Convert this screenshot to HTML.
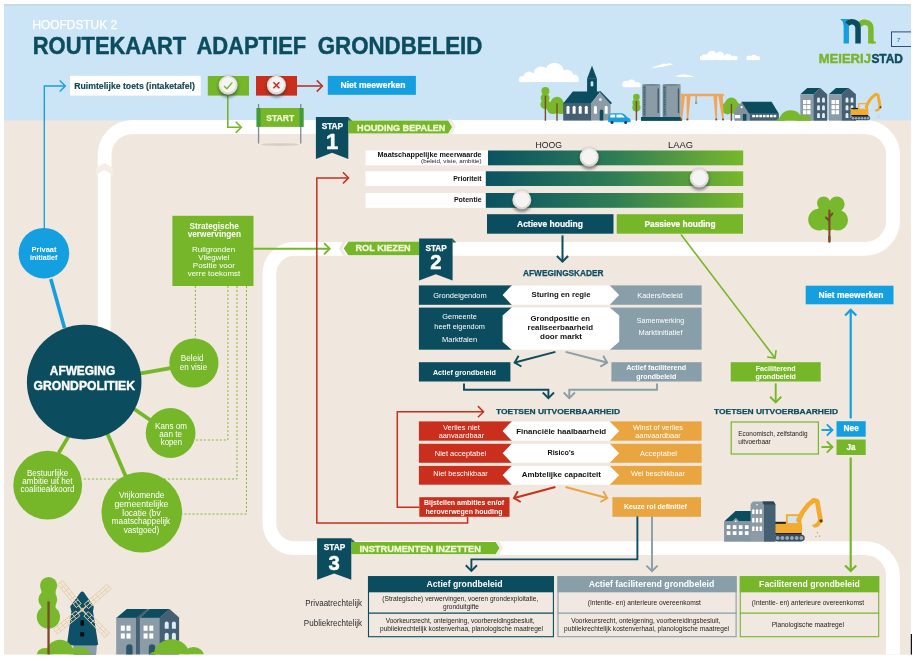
<!DOCTYPE html>
<html lang="nl"><head><meta charset="utf-8"><title>Routekaart adaptief grondbeleid</title>
<style>
html,body{margin:0;padding:0;background:#fff;width:916px;height:661px;overflow:hidden}
svg{display:block;font-family:"Liberation Sans", sans-serif;will-change:transform}
</style></head><body>
<svg width="916" height="661" viewBox="0 0 916 661">
<rect x="4.00" y="4.30" width="907.00" height="650.30" fill="#f0e7de" />
<rect x="4.00" y="4.30" width="907.00" height="116.00" fill="#cbe4f6" />
<rect x="4.00" y="4.30" width="907.00" height="1.20" fill="#c3d3df" />
<clipPath id="frame"><rect x="4" y="4.3" width="907" height="650.3000000000001"/></clipPath>
<g clip-path="url(#frame)">
<path d="M104.6 174 L104.6 155 A28 28 0 0 1 132.6 127 L865 127 A28 28 0 0 1 893 155 L893 220.8 A28 28 0 0 1 865 248.8 L294.4 248.8 A25 25 0 0 0 269.4 273.8 L269.4 523.1 A25 25 0 0 0 294.4 548.1 L865 548.1 A28 28 0 0 1 893 576.1 L893 660" fill="none" stroke="#fff" stroke-width="13.8"/>
</g>
<text x="32.50" y="29.30" font-size="12" fill="#fff" font-weight="normal" text-anchor="start" textLength="84.50" lengthAdjust="spacingAndGlyphs" stroke="#fff" stroke-width="0.25">HOOFDSTUK 2</text>
<text y="53.5" font-size="23" font-weight="bold" fill="#0b4d5f" stroke="#0b4d5f" stroke-width="0.45" stroke-linejoin="round"><tspan x="32.8" textLength="153.4" lengthAdjust="spacingAndGlyphs">ROUTEKAART</tspan> <tspan x="196.4" textLength="109.8" lengthAdjust="spacingAndGlyphs">ADAPTIEF</tspan> <tspan x="317.8" textLength="164.6" lengthAdjust="spacingAndGlyphs">GRONDBELEID</tspan></text>
<path d="M97.8 340 L97.8 175.5 L110.6 175.5 L110.6 340 Z" fill="#fff"/>
<path d="M96 175 L96 167.8 L104.6 163 L113.2 167.8 L113.2 175 Z" fill="#f5eee7"/>
<path d="M97.6 176 L97.6 174 L104.3 170 L111 174 L111 176 Z" fill="#fff"/>
<defs>
<linearGradient id="gbar" x1="0" x2="1" y1="0" y2="0"><stop offset="0" stop-color="#0a5262"/><stop offset="0.5" stop-color="#2f7d56"/><stop offset="1" stop-color="#78b82a"/></linearGradient>
<radialGradient id="knob" cx="0.5" cy="0.4" r="0.6"><stop offset="0" stop-color="#f4f3f1"/><stop offset="0.7" stop-color="#e9e7e4"/><stop offset="1" stop-color="#d0cecb"/></radialGradient>
<filter id="sh" x="-50%" y="-50%" width="200%" height="220%"><feGaussianBlur stdDeviation="1.6"/></filter>
</defs>
<path d="M44.30 230.00 L44.30 86.00 L65.05 86.00" fill="none" stroke="#149fe0" stroke-width="1.35" />
<path d="M59.75 91.60 L65.35 86.00 L59.75 80.40" fill="none" stroke="#149fe0" stroke-width="1.35" stroke-linejoin="miter"/>
<rect x="70.00" y="75.80" width="130.70" height="19.80" fill="#fff" />
<text x="74.30" y="88.60" font-size="8.2" fill="#124555" font-weight="bold" text-anchor="start" stroke="#124555" stroke-width="0.15" stroke-linejoin="round" textLength="120.50" lengthAdjust="spacingAndGlyphs" >Ruimtelijke toets (intaketafel)</text>
<rect x="207.80" y="76.00" width="41.20" height="19.60" fill="#76b72a" />
<rect x="256.00" y="76.00" width="41.00" height="19.60" fill="#c92f1c" />
<path d="M297.00 86.00 L322.07 86.00" fill="none" stroke="#b5382b" stroke-width="1.6" />
<path d="M316.77 91.60 L322.37 86.00 L316.77 80.40" fill="none" stroke="#b5382b" stroke-width="1.6" stroke-linejoin="miter"/>
<rect x="327.80" y="75.90" width="88.10" height="18.90" fill="#149fe0" />
<text x="373.00" y="87.60" font-size="8.6" fill="#fff" font-weight="bold" text-anchor="middle" stroke="#fff" stroke-width="0.2" stroke-linejoin="round" textLength="65.00" lengthAdjust="spacingAndGlyphs" >Niet meewerken</text>
<path d="M227.80 95.00 L227.80 127.30 L240.97 127.30" fill="none" stroke="#76b72a" stroke-width="1.6" />
<path d="M235.67 132.90 L241.27 127.30 L235.67 121.70" fill="none" stroke="#76b72a" stroke-width="1.6" stroke-linejoin="miter"/>
<circle cx="228.1" cy="86.5" r="10.4" fill="#1d2b2b" opacity="0.32" filter="url(#sh)"/>
<ellipse cx="228.1" cy="90.3" rx="8.55" ry="7.125" fill="#2a3a3a" opacity="0.35" filter="url(#sh)"/>
<circle cx="228.1" cy="85.3" r="9.5" fill="url(#knob)"/>
<circle cx="228.1" cy="85.1" r="6.6499999999999995" fill="#f5f4f2" stroke="#fbfbfa" stroke-width="0.7"/>
<path d="M224 85.9 L226.9 88.8 L232.4 82.4" fill="none" stroke="#76b72a" stroke-width="1.4"/>
<circle cx="276.4" cy="86.5" r="10.4" fill="#1d2b2b" opacity="0.32" filter="url(#sh)"/>
<ellipse cx="276.4" cy="90.3" rx="8.55" ry="7.125" fill="#2a3a3a" opacity="0.35" filter="url(#sh)"/>
<circle cx="276.4" cy="85.3" r="9.5" fill="url(#knob)"/>
<circle cx="276.4" cy="85.1" r="6.6499999999999995" fill="#f5f4f2" stroke="#fbfbfa" stroke-width="0.7"/>
<path d="M273.4 82.3 L279.4 88.3 M279.4 82.3 L273.4 88.3" fill="none" stroke="#c92f1c" stroke-width="1.6"/>
<ellipse cx="280" cy="144.6" rx="19" ry="1.4" fill="#b9b2aa" opacity="0.45"/>
<rect x="257.90" y="104.00" width="1.30" height="39.50" fill="#7d8a9c" />
<rect x="300.10" y="104.00" width="1.30" height="39.50" fill="#7d8a9c" />
<rect x="256.60" y="108.00" width="46.90" height="18.90" fill="#76b72a" />
<rect x="256.60" y="108.00" width="4.00" height="18.90" fill="#3f9b3c" />
<rect x="299.50" y="108.00" width="4.00" height="18.90" fill="#3f9b3c" />
<text x="280.20" y="120.90" font-size="9.6" fill="#f5fadc" font-weight="bold" text-anchor="middle" stroke="#f5fadc" stroke-width="0.25" stroke-linejoin="round" textLength="27.80" lengthAdjust="spacingAndGlyphs" >START</text>
<path d="M448.2 119.1 L451.4 119.1 L455.4 127.0 L451.4 134.9 L448.2 134.9 L452 127.0 Z" fill="#f3ebe3"/>
<path d="M348.3 120.6 L448.2 120.6 L452 127.0 L448.2 133.4 L348.3 133.4 Z" fill="#76b72a"/>
<text x="357.10" y="130.60" font-size="9.9" fill="#f5fadc" font-weight="bold" text-anchor="start" stroke="#f5fadc" stroke-width="0.3" stroke-linejoin="round" textLength="88.30" lengthAdjust="spacingAndGlyphs" >HOUDING BEPALEN</text>
<path d="M348.1 117 L352.1 120.8 L348.1 120.8 Z" fill="#2a6b45"/>
<path d="M315.9 117 L348.3 117 L348.3 158.9 L332.1 152.70000000000002 L315.9 158.9 Z" fill="#0b4d5f"/>
<text x="332.40" y="128.90" font-size="8.7" fill="#fff" font-weight="bold" text-anchor="middle" stroke="#fff" stroke-width="0.25" stroke-linejoin="round" textLength="21.50" lengthAdjust="spacingAndGlyphs" >STAP</text>
<text x="332.10" y="148.50" font-size="22" fill="#fff" font-weight="bold" text-anchor="middle" stroke="#fff" stroke-width="0.5" stroke-linejoin="round" >1</text>
<rect x="365.50" y="150.50" width="123.00" height="14.80" fill="#fff" />
<rect x="488.00" y="150.50" width="255.20" height="14.80" fill="url(#gbar)" />
<rect x="365.50" y="171.30" width="120.80" height="14.70" fill="#fff" />
<rect x="485.80" y="171.30" width="257.40" height="14.70" fill="url(#gbar)" />
<rect x="365.50" y="193.00" width="120.80" height="14.80" fill="#fff" />
<rect x="485.80" y="193.00" width="257.40" height="14.80" fill="url(#gbar)" />
<text x="481.60" y="157.20" font-size="6.9" fill="#111" font-weight="bold" text-anchor="end" textLength="104.00" lengthAdjust="spacingAndGlyphs" >Maatschappelijke meerwaarde</text>
<text x="481.60" y="163.30" font-size="5.9" fill="#222" font-weight="normal" text-anchor="end" textLength="60.50" lengthAdjust="spacingAndGlyphs" >(beleid, visie, ambitie)</text>
<text x="481.60" y="181.20" font-size="6.9" fill="#111" font-weight="bold" text-anchor="end" textLength="28.40" lengthAdjust="spacingAndGlyphs" >Prioriteit</text>
<text x="481.60" y="201.50" font-size="6.9" fill="#111" font-weight="bold" text-anchor="end" textLength="27.70" lengthAdjust="spacingAndGlyphs" >Potentie</text>
<text x="548.70" y="148.30" font-size="8.2" fill="#222" font-weight="normal" text-anchor="middle" textLength="26.50" lengthAdjust="spacingAndGlyphs" >HOOG</text>
<text x="680.50" y="148.30" font-size="8.2" fill="#222" font-weight="normal" text-anchor="middle" textLength="25.00" lengthAdjust="spacingAndGlyphs" >LAAG</text>
<circle cx="589.2" cy="158.5" r="10.4" fill="#1d2b2b" opacity="0.32" filter="url(#sh)"/>
<ellipse cx="589.2" cy="162.3" rx="8.55" ry="7.125" fill="#2a3a3a" opacity="0.35" filter="url(#sh)"/>
<circle cx="589.2" cy="157.3" r="9.5" fill="url(#knob)"/>
<circle cx="589.2" cy="157.10000000000002" r="6.6499999999999995" fill="#f5f4f2" stroke="#fbfbfa" stroke-width="0.7"/>
<circle cx="699.3" cy="179.39999999999998" r="10.4" fill="#1d2b2b" opacity="0.32" filter="url(#sh)"/>
<ellipse cx="699.3" cy="183.2" rx="8.55" ry="7.125" fill="#2a3a3a" opacity="0.35" filter="url(#sh)"/>
<circle cx="699.3" cy="178.2" r="9.5" fill="url(#knob)"/>
<circle cx="699.3" cy="178.0" r="6.6499999999999995" fill="#f5f4f2" stroke="#fbfbfa" stroke-width="0.7"/>
<circle cx="521.8" cy="201.1" r="10.4" fill="#1d2b2b" opacity="0.32" filter="url(#sh)"/>
<ellipse cx="521.8" cy="204.9" rx="8.55" ry="7.125" fill="#2a3a3a" opacity="0.35" filter="url(#sh)"/>
<circle cx="521.8" cy="199.9" r="9.5" fill="url(#knob)"/>
<circle cx="521.8" cy="199.70000000000002" r="6.6499999999999995" fill="#f5f4f2" stroke="#fbfbfa" stroke-width="0.7"/>
<rect x="487.00" y="214.20" width="126.50" height="19.50" fill="#0b4d5f" />
<rect x="616.70" y="214.20" width="126.30" height="19.50" fill="#76b72a" />
<text x="550.00" y="227.00" font-size="8.8" fill="#fff" font-weight="bold" text-anchor="middle" stroke="#fff" stroke-width="0.2" stroke-linejoin="round" textLength="66.00" lengthAdjust="spacingAndGlyphs" >Actieve houding</text>
<text x="680.00" y="227.00" font-size="8.8" fill="#fff" font-weight="bold" text-anchor="middle" stroke="#fff" stroke-width="0.2" stroke-linejoin="round" textLength="71.00" lengthAdjust="spacingAndGlyphs" >Passieve houding</text>
<path d="M562.50 235.40 L562.50 261.29" fill="none" stroke="#0b4d5f" stroke-width="2.0" />
<path d="M556.90 255.99 L562.50 261.59 L568.10 255.99" fill="none" stroke="#0b4d5f" stroke-width="2.0" stroke-linejoin="miter"/>
<text x="563.30" y="276.10" font-size="8.4" fill="#0b4d5f" font-weight="bold" text-anchor="middle" stroke="#0b4d5f" stroke-width="0.25" stroke-linejoin="round" textLength="80.50" lengthAdjust="spacingAndGlyphs" >AFWEGINGSKADER</text>
<path d="M253.50 248.70 L329.36 248.70" fill="none" stroke="#76b72a" stroke-width="1.9" />
<path d="M324.06 254.30 L329.66 248.70 L324.06 243.10" fill="none" stroke="#76b72a" stroke-width="1.9" stroke-linejoin="miter"/>
<path d="M339.2 248.4 L343.4 241 L346.4 241 L342.2 248.4 L346.4 256 L343.4 256 Z" fill="#f0e7de"/>
<path d="M343.7 248.5 L348.3 241.8 L419.5 241.8 L419.5 255.2 L348.3 255.2 Z" fill="#76b72a"/>
<text x="355.50" y="251.30" font-size="9.4" fill="#f5fadc" font-weight="bold" text-anchor="start" stroke="#f5fadc" stroke-width="0.3" stroke-linejoin="round" textLength="55.10" lengthAdjust="spacingAndGlyphs" >ROL KIEZEN</text>
<path d="M452.40000000000003 238.6 L456.40000000000003 242.4 L452.40000000000003 242.4 Z" fill="#2a6b45"/>
<path d="M419.1 238.6 L452.6 238.6 L452.6 280.5 L435.85 274.3 L419.1 280.5 Z" fill="#0b4d5f"/>
<text x="436.15" y="250.50" font-size="8.7" fill="#fff" font-weight="bold" text-anchor="middle" stroke="#fff" stroke-width="0.25" stroke-linejoin="round" textLength="21.50" lengthAdjust="spacingAndGlyphs" >STAP</text>
<text x="435.85" y="268.70" font-size="20.2" fill="#fff" font-weight="bold" text-anchor="middle" stroke="#fff" stroke-width="0.5" stroke-linejoin="round" >2</text>
<rect x="418.90" y="285.40" width="93.10" height="19.40" fill="#0b4d5f" />
<rect x="610.00" y="285.40" width="91.60" height="19.40" fill="#889ea9" />
<path d="M511.6 285.4 L609.8 285.4 L619.2 295.1 L609.8 304.8 L511.6 304.8 L502.6 295.1 Z" fill="#fff"/>
<rect x="418.90" y="307.60" width="93.10" height="42.10" fill="#0b4d5f" />
<rect x="610.00" y="307.60" width="91.60" height="42.10" fill="#889ea9" />
<path d="M511.6 307.6 L609.8 307.6 L619.2 315.6 L619.2 341.7 L609.8 349.7 L511.6 349.7 L502.6 341.7 L502.6 315.6 Z" fill="#fff"/>
<text x="460.00" y="297.60" font-size="7.5" fill="#fff" font-weight="normal" text-anchor="middle" textLength="53.40" lengthAdjust="spacingAndGlyphs" >Grondeigendom</text>
<text x="459.60" y="319.20" font-size="7.5" fill="#fff" font-weight="normal" text-anchor="middle" textLength="34.50" lengthAdjust="spacingAndGlyphs" >Gemeente</text>
<text x="459.60" y="328.70" font-size="7.5" fill="#fff" font-weight="normal" text-anchor="middle" textLength="50.50" lengthAdjust="spacingAndGlyphs" >heeft eigendom</text>
<text x="459.60" y="342.10" font-size="7.5" fill="#fff" font-weight="normal" text-anchor="middle" textLength="35.00" lengthAdjust="spacingAndGlyphs" >Marktfalen</text>
<text x="660.00" y="298.00" font-size="7.5" fill="#fff" font-weight="normal" text-anchor="middle" textLength="45.50" lengthAdjust="spacingAndGlyphs" >Kaders/beleid</text>
<text x="660.50" y="322.50" font-size="7.5" fill="#fff" font-weight="normal" text-anchor="middle" textLength="47.50" lengthAdjust="spacingAndGlyphs" >Samenwerking</text>
<text x="660.50" y="335.20" font-size="7.5" fill="#fff" font-weight="normal" text-anchor="middle" textLength="44.00" lengthAdjust="spacingAndGlyphs" >Marktinitiatief</text>
<text x="561.00" y="297.40" font-size="8.0" fill="#111" font-weight="bold" text-anchor="middle" textLength="59.00" lengthAdjust="spacingAndGlyphs" >Sturing en regie</text>
<text x="560.30" y="320.70" font-size="8.0" fill="#111" font-weight="bold" text-anchor="middle" textLength="59.40" lengthAdjust="spacingAndGlyphs" >Grondpositie en</text>
<text x="560.30" y="329.80" font-size="8.0" fill="#111" font-weight="bold" text-anchor="middle" textLength="65.40" lengthAdjust="spacingAndGlyphs" >realiseerbaarheid</text>
<text x="561.00" y="338.90" font-size="8.0" fill="#111" font-weight="bold" text-anchor="middle" textLength="42.00" lengthAdjust="spacingAndGlyphs" >door markt</text>
<path d="M555.40 351.80 L514.89 362.48" fill="none" stroke="#0b4d5f" stroke-width="1.9" />
<path d="M518.59 355.71 L514.60 362.56 L521.44 366.54" fill="none" stroke="#0b4d5f" stroke-width="1.9" stroke-linejoin="miter"/>
<path d="M565.70 351.80 L606.91 362.49" fill="none" stroke="#889ea9" stroke-width="1.9" />
<path d="M600.37 366.58 L607.20 362.56 L603.18 355.74" fill="none" stroke="#889ea9" stroke-width="1.9" stroke-linejoin="miter"/>
<rect x="418.90" y="362.20" width="91.50" height="19.30" fill="#0b4d5f" />
<rect x="611.40" y="362.20" width="90.20" height="19.30" fill="#889ea9" />
<text x="464.40" y="374.50" font-size="7.2" fill="#fff" font-weight="bold" text-anchor="middle" textLength="63.00" lengthAdjust="spacingAndGlyphs" >Actief grondbeleid</text>
<text x="656.20" y="370.20" font-size="7.2" fill="#fff" font-weight="bold" text-anchor="middle" textLength="60.00" lengthAdjust="spacingAndGlyphs" >Actief faciliterend</text>
<text x="656.20" y="378.50" font-size="7.2" fill="#fff" font-weight="bold" text-anchor="middle" textLength="40.00" lengthAdjust="spacingAndGlyphs" >grondbeleid</text>
<path d="M464.00 383.40 L464.00 389.80 L548.40 389.80 L548.40 397.76" fill="none" stroke="#0b4d5f" stroke-width="1.9" />
<path d="M542.80 392.46 L548.40 398.06 L554.00 392.46" fill="none" stroke="#0b4d5f" stroke-width="1.9" stroke-linejoin="miter"/>
<path d="M657.00 383.40 L657.00 389.80 L569.30 389.80 L569.30 397.76" fill="none" stroke="#889ea9" stroke-width="1.9" />
<path d="M563.70 392.46 L569.30 398.06 L574.90 392.46" fill="none" stroke="#889ea9" stroke-width="1.9" stroke-linejoin="miter"/>
<text x="558.00" y="414.40" font-size="8.1" fill="#0b4d5f" font-weight="bold" text-anchor="middle" stroke="#0b4d5f" stroke-width="0.25" stroke-linejoin="round" textLength="124.00" lengthAdjust="spacingAndGlyphs" >TOETSEN UITVOERBAARHEID</text>
<rect x="418.90" y="421.40" width="93.10" height="19.30" fill="#c92f1c" />
<rect x="610.00" y="421.40" width="91.60" height="19.30" fill="#e9a53f" />
<path d="M511.6 421.4 L609.8 421.4 L619.2 431.04999999999995 L609.8 440.7 L511.6 440.7 L502.6 431.04999999999995 Z" fill="#fff"/>
<rect x="418.90" y="443.80" width="93.10" height="19.00" fill="#c92f1c" />
<rect x="610.00" y="443.80" width="91.60" height="19.00" fill="#e9a53f" />
<path d="M511.6 443.8 L609.8 443.8 L619.2 453.3 L609.8 462.8 L511.6 462.8 L502.6 453.3 Z" fill="#fff"/>
<rect x="418.90" y="465.90" width="93.10" height="18.80" fill="#c92f1c" />
<rect x="610.00" y="465.90" width="91.60" height="18.80" fill="#e9a53f" />
<path d="M511.6 465.9 L609.8 465.9 L619.2 475.29999999999995 L609.8 484.7 L511.6 484.7 L502.6 475.29999999999995 Z" fill="#fff"/>
<text x="461.40" y="429.50" font-size="7.5" fill="#fff" font-weight="normal" text-anchor="middle" textLength="37.00" lengthAdjust="spacingAndGlyphs" >Verlies niet</text>
<text x="461.40" y="437.90" font-size="7.5" fill="#fff" font-weight="normal" text-anchor="middle" textLength="45.50" lengthAdjust="spacingAndGlyphs" >aanvaardbaar</text>
<text x="460.50" y="455.70" font-size="7.5" fill="#fff" font-weight="normal" text-anchor="middle" textLength="51.50" lengthAdjust="spacingAndGlyphs" >Niet acceptabel</text>
<text x="460.50" y="476.10" font-size="7.5" fill="#fff" font-weight="normal" text-anchor="middle" textLength="54.50" lengthAdjust="spacingAndGlyphs" >Niet beschikbaar</text>
<text x="658.00" y="429.50" font-size="7.5" fill="#fff" font-weight="normal" text-anchor="middle" textLength="50.00" lengthAdjust="spacingAndGlyphs" >Winst of verlies</text>
<text x="658.00" y="437.90" font-size="7.5" fill="#fff" font-weight="normal" text-anchor="middle" textLength="45.50" lengthAdjust="spacingAndGlyphs" >aanvaardbaar</text>
<text x="658.50" y="455.70" font-size="7.5" fill="#fff" font-weight="normal" text-anchor="middle" textLength="37.00" lengthAdjust="spacingAndGlyphs" >Acceptabel</text>
<text x="658.00" y="476.10" font-size="7.5" fill="#fff" font-weight="normal" text-anchor="middle" textLength="54.00" lengthAdjust="spacingAndGlyphs" >Wel beschikbaar</text>
<text x="561.20" y="433.60" font-size="8.0" fill="#111" font-weight="bold" text-anchor="middle" textLength="90.00" lengthAdjust="spacingAndGlyphs" >Financiële haalbaarheid</text>
<text x="561.00" y="455.10" font-size="8.0" fill="#111" font-weight="bold" text-anchor="middle" textLength="27.00" lengthAdjust="spacingAndGlyphs" >Risico’s</text>
<text x="561.30" y="476.80" font-size="8.0" fill="#111" font-weight="bold" text-anchor="middle" textLength="79.30" lengthAdjust="spacingAndGlyphs" >Ambtelijke capaciteit</text>
<path d="M555.40 487.00 L514.19 497.98" fill="none" stroke="#c92f1c" stroke-width="1.9" />
<path d="M517.87 491.20 L513.90 498.05 L520.75 502.02" fill="none" stroke="#c92f1c" stroke-width="1.9" stroke-linejoin="miter"/>
<path d="M565.50 487.00 L606.91 497.98" fill="none" stroke="#e9a53f" stroke-width="1.9" />
<path d="M600.35 502.03 L607.20 498.06 L603.22 491.21" fill="none" stroke="#e9a53f" stroke-width="1.9" stroke-linejoin="miter"/>
<rect x="419.30" y="497.20" width="90.20" height="19.60" fill="#c92f1c" />
<rect x="612.40" y="497.20" width="88.60" height="19.60" fill="#e9a53f" />
<text x="464.00" y="505.10" font-size="6.9" fill="#fff" font-weight="bold" text-anchor="middle" textLength="80.00" lengthAdjust="spacingAndGlyphs" >Bijstellen ambities en/of</text>
<text x="464.00" y="513.60" font-size="6.9" fill="#fff" font-weight="bold" text-anchor="middle" textLength="77.00" lengthAdjust="spacingAndGlyphs" >heroverwegen houding</text>
<text x="655.40" y="508.60" font-size="6.9" fill="#fff" font-weight="bold" text-anchor="middle" textLength="63.00" lengthAdjust="spacingAndGlyphs" >Keuze rol definitief</text>
<path d="M419.30 507.30 L397.30 507.30 L397.30 411.70 L483.24 411.70" fill="none" stroke="#c92f1c" stroke-width="1.5" />
<path d="M477.94 417.30 L483.54 411.70 L477.94 406.10" fill="none" stroke="#c92f1c" stroke-width="1.5" stroke-linejoin="miter"/>
<path d="M467.60 516.40 L467.60 523.00 L316.80 523.00 L316.80 177.90 L348.24 177.90" fill="none" stroke="#c92f1c" stroke-width="1.5" />
<path d="M342.94 183.50 L348.54 177.90 L342.94 172.30" fill="none" stroke="#c92f1c" stroke-width="1.5" stroke-linejoin="miter"/>
<path d="M637.40 516.40 L637.40 559.40 L471.40 559.40 L471.40 570.56" fill="none" stroke="#0b4d5f" stroke-width="1.9" />
<path d="M465.80 565.26 L471.40 570.86 L477.00 565.26" fill="none" stroke="#0b4d5f" stroke-width="1.9" stroke-linejoin="miter"/>
<path d="M652.00 516.40 L652.00 570.96" fill="none" stroke="#889ea9" stroke-width="1.9" />
<path d="M646.40 565.66 L652.00 571.26 L657.60 565.66" fill="none" stroke="#889ea9" stroke-width="1.9" stroke-linejoin="miter"/>
<path d="M681.00 234.50 L774.83 357.76" fill="none" stroke="#76b72a" stroke-width="1.6" />
<path d="M767.17 356.94 L775.01 358.00 L776.08 350.15" fill="none" stroke="#76b72a" stroke-width="1.6" stroke-linejoin="miter"/>
<rect x="730.70" y="362.20" width="90.00" height="19.30" fill="#76b72a" />
<text x="775.70" y="370.60" font-size="7.2" fill="#fff" font-weight="bold" text-anchor="middle" textLength="40.00" lengthAdjust="spacingAndGlyphs" >Faciliterend</text>
<text x="775.70" y="378.60" font-size="7.2" fill="#fff" font-weight="bold" text-anchor="middle" textLength="40.50" lengthAdjust="spacingAndGlyphs" >grondbeleid</text>
<path d="M775.70 383.40 L775.70 402.06" fill="none" stroke="#76b72a" stroke-width="1.9" />
<path d="M770.10 396.76 L775.70 402.36 L781.30 396.76" fill="none" stroke="#76b72a" stroke-width="1.9" stroke-linejoin="miter"/>
<text x="776.00" y="414.40" font-size="8.1" fill="#0b4d5f" font-weight="bold" text-anchor="middle" stroke="#0b4d5f" stroke-width="0.25" stroke-linejoin="round" textLength="124.00" lengthAdjust="spacingAndGlyphs" >TOETSEN UITVOERBAARHEID</text>
<rect x="731.2" y="422" width="87.2" height="32" fill="#f0e7de" stroke="#76b72a" stroke-width="1.2"/>
<text x="738.30" y="436.30" font-size="6.6" fill="#222" font-weight="normal" text-anchor="start" textLength="69.20" lengthAdjust="spacingAndGlyphs" >Economisch, zelfstandig</text>
<text x="738.30" y="444.40" font-size="6.6" fill="#222" font-weight="normal" text-anchor="start" textLength="32.50" lengthAdjust="spacingAndGlyphs" >uitvoerbaar</text>
<path d="M821.50 430.00 L832.16 430.00" fill="none" stroke="#149fe0" stroke-width="1.9" />
<path d="M826.86 435.60 L832.46 430.00 L826.86 424.40" fill="none" stroke="#149fe0" stroke-width="1.9" stroke-linejoin="miter"/>
<path d="M821.50 447.00 L832.16 447.00" fill="none" stroke="#76b72a" stroke-width="1.9" />
<path d="M826.86 452.60 L832.46 447.00 L826.86 441.40" fill="none" stroke="#76b72a" stroke-width="1.9" stroke-linejoin="miter"/>
<rect x="836.50" y="421.20" width="29.20" height="15.50" fill="#149fe0" />
<rect x="836.50" y="439.50" width="29.20" height="15.50" fill="#76b72a" />
<text x="851.20" y="431.20" font-size="8.5" fill="#fff" font-weight="bold" text-anchor="middle" stroke="#fff" stroke-width="0.25" stroke-linejoin="round" textLength="15.30" lengthAdjust="spacingAndGlyphs" >Nee</text>
<text x="851.00" y="449.80" font-size="8.5" fill="#fff" font-weight="bold" text-anchor="middle" stroke="#fff" stroke-width="0.25" stroke-linejoin="round" textLength="9.00" lengthAdjust="spacingAndGlyphs" >Ja</text>
<path d="M850.70 418.40 L850.70 310.16" fill="none" stroke="#149fe0" stroke-width="2.2" />
<path d="M856.30 315.46 L850.70 309.86 L845.10 315.46" fill="none" stroke="#149fe0" stroke-width="2.2" stroke-linejoin="miter"/>
<rect x="805.70" y="285.70" width="87.80" height="18.60" fill="#149fe0" />
<text x="851.00" y="298.00" font-size="8.6" fill="#fff" font-weight="bold" text-anchor="middle" stroke="#fff" stroke-width="0.2" stroke-linejoin="round" textLength="64.80" lengthAdjust="spacingAndGlyphs" >Niet meewerken</text>
<path d="M850.70 457.50 L850.70 570.74" fill="none" stroke="#76b72a" stroke-width="2.2" />
<path d="M845.10 565.44 L850.70 571.04 L856.30 565.44" fill="none" stroke="#76b72a" stroke-width="2.2" stroke-linejoin="miter"/>
<path d="M495.7 540.4 L498.9 540.4 L502.9 548.05 L498.9 555.7 L495.7 555.7 L499.5 548.05 Z" fill="#f3ebe3"/>
<path d="M351.3 541.9 L495.7 541.9 L499.5 548.05 L495.7 554.2 L351.3 554.2 Z" fill="#76b72a"/>
<text x="359.40" y="551.60" font-size="9.0" fill="#f5fadc" font-weight="bold" text-anchor="start" stroke="#f5fadc" stroke-width="0.3" stroke-linejoin="round" textLength="121.60" lengthAdjust="spacingAndGlyphs" >INSTRUMENTEN INZETTEN</text>
<path d="M351.1 538.2 L355.1 542.0 L351.1 542.0 Z" fill="#2a6b45"/>
<path d="M317.1 538.2 L351.3 538.2 L351.3 579.7 L334.20000000000005 573.5 L317.1 579.7 Z" fill="#0b4d5f"/>
<text x="334.50" y="550.10" font-size="8.7" fill="#fff" font-weight="bold" text-anchor="middle" stroke="#fff" stroke-width="0.25" stroke-linejoin="round" textLength="21.50" lengthAdjust="spacingAndGlyphs" >STAP</text>
<text x="334.20" y="570.30" font-size="20.2" fill="#fff" font-weight="bold" text-anchor="middle" stroke="#fff" stroke-width="0.5" stroke-linejoin="round" >3</text>
<rect x="368.5" y="576.7" width="184.89999999999998" height="60" fill="#f1e9e1" stroke="#0b4d5f" stroke-width="1.1"/>
<rect x="368.00" y="576.20" width="185.90" height="16.10" fill="#0b4d5f" />
<path d="M368.00 613.20 L553.90 613.20" fill="none" stroke="#0b4d5f" stroke-width="1.3" />
<text x="464.50" y="587.10" font-size="8.6" fill="#fff" font-weight="bold" text-anchor="middle" textLength="76.00" lengthAdjust="spacingAndGlyphs" >Actief grondbeleid</text>
<text x="460.30" y="601.30" font-size="6.6" fill="#222" font-weight="normal" text-anchor="middle" textLength="156.00" lengthAdjust="spacingAndGlyphs" >(Strategische) verwervingen, voeren grondexploitatie,</text>
<text x="461.00" y="608.70" font-size="6.6" fill="#222" font-weight="normal" text-anchor="middle" textLength="36.00" lengthAdjust="spacingAndGlyphs" >gronduitgifte</text>
<text x="460.20" y="623.00" font-size="6.6" fill="#222" font-weight="normal" text-anchor="middle" textLength="149.00" lengthAdjust="spacingAndGlyphs" >Voorkeursrecht, onteigening, voorbereidingsbesluit,</text>
<text x="461.50" y="630.50" font-size="6.6" fill="#222" font-weight="normal" text-anchor="middle" textLength="163.00" lengthAdjust="spacingAndGlyphs" >publiekrechtelijk kostenverhaa, planologische maatregel</text>
<rect x="558.0" y="576.7" width="178.10000000000002" height="60" fill="#f1e9e1" stroke="#889ea9" stroke-width="1.1"/>
<rect x="557.50" y="576.20" width="179.10" height="16.10" fill="#889ea9" />
<path d="M557.50 613.20 L736.60 613.20" fill="none" stroke="#889ea9" stroke-width="1.3" />
<text x="651.50" y="587.10" font-size="8.6" fill="#fff" font-weight="bold" text-anchor="middle" textLength="125.70" lengthAdjust="spacingAndGlyphs" >Actief faciliterend grondbeleid</text>
<text x="644.30" y="604.80" font-size="6.6" fill="#222" font-weight="normal" text-anchor="middle" textLength="113.20" lengthAdjust="spacingAndGlyphs" >(Intentie- en) anterieure overeenkomst</text>
<text x="645.80" y="623.00" font-size="6.6" fill="#222" font-weight="normal" text-anchor="middle" textLength="149.30" lengthAdjust="spacingAndGlyphs" >Voorkeursrecht, onteigening, voorbereidingsbesluit,</text>
<text x="646.60" y="630.80" font-size="6.6" fill="#222" font-weight="normal" text-anchor="middle" textLength="165.00" lengthAdjust="spacingAndGlyphs" >publiekrechtelijk kostenverhaal, planologische maatregel</text>
<rect x="740.3" y="576.7" width="138.4000000000001" height="60" fill="#f1e9e1" stroke="#76b72a" stroke-width="1.1"/>
<rect x="739.80" y="576.20" width="139.40" height="16.10" fill="#76b72a" />
<path d="M739.80 613.20 L879.20 613.20" fill="none" stroke="#76b72a" stroke-width="1.3" />
<text x="809.50" y="587.10" font-size="8.6" fill="#fff" font-weight="bold" text-anchor="middle" textLength="100.80" lengthAdjust="spacingAndGlyphs" >Faciliterend grondbeleid</text>
<text x="808.00" y="604.80" font-size="6.6" fill="#222" font-weight="normal" text-anchor="middle" textLength="112.30" lengthAdjust="spacingAndGlyphs" >(Intentie- en) anterieure overeenkomst</text>
<text x="807.80" y="627.00" font-size="6.6" fill="#222" font-weight="normal" text-anchor="middle" textLength="72.30" lengthAdjust="spacingAndGlyphs" >Planologische maatregel</text>
<text x="362.10" y="605.70" font-size="8.3" fill="#2b2b2b" font-weight="normal" text-anchor="end" textLength="56.80" lengthAdjust="spacingAndGlyphs" >Privaatrechtelijk</text>
<text x="362.10" y="625.90" font-size="8.3" fill="#2b2b2b" font-weight="normal" text-anchor="end" textLength="58.30" lengthAdjust="spacingAndGlyphs" >Publiekrechtelijk</text>
<path d="M50.8 279 L64.5 328" stroke="#149fe0" stroke-width="3.6" fill="none"/>
<g stroke="#76b72a" stroke-width="3.8" fill="none"><path d="M138 373.8 L172 367.9"/><path d="M132 407.5 L152 421.3"/><path d="M69 435.6 L58.5 453.3"/><path d="M106 430.5 L126 477"/></g>
<g stroke="#76b72a" stroke-width="0.95" fill="none" stroke-dasharray="2.1 1.9" opacity="0.95"><path d="M195.4 286 L195.4 339"/><path d="M227.9 286 L227.9 440 L195.4 440"/><path d="M237 286 L237 479 L82.5 479"/><path d="M246.5 286 L246.5 514 L182 514"/></g>
<rect x="172.40" y="215.80" width="81.10" height="70.20" fill="#76b72a" />
<text x="214.20" y="229.00" font-size="8.3" fill="#fff" font-weight="bold" text-anchor="middle" textLength="49.30" lengthAdjust="spacingAndGlyphs" >Strategische</text>
<text x="214.30" y="237.30" font-size="8.3" fill="#fff" font-weight="bold" text-anchor="middle" textLength="53.30" lengthAdjust="spacingAndGlyphs" >verwervingen</text>
<text x="213.60" y="251.50" font-size="8.05" fill="#fff" font-weight="normal" text-anchor="middle" textLength="43.00" lengthAdjust="spacingAndGlyphs" >Ruilgronden</text>
<text x="213.80" y="259.60" font-size="8.05" fill="#fff" font-weight="normal" text-anchor="middle" textLength="31.20" lengthAdjust="spacingAndGlyphs" >Vliegwiel</text>
<text x="213.90" y="268.00" font-size="8.05" fill="#fff" font-weight="normal" text-anchor="middle" textLength="42.30" lengthAdjust="spacingAndGlyphs" >Positie voor</text>
<text x="214.00" y="275.70" font-size="8.05" fill="#fff" font-weight="normal" text-anchor="middle" textLength="52.60" lengthAdjust="spacingAndGlyphs" >verre toekomst</text>
<circle cx="43.9" cy="253.2" r="25.3" fill="#149fe0"/>
<text x="44.00" y="251.90" font-size="7.7" fill="#fff" font-weight="bold" text-anchor="middle" textLength="25.00" lengthAdjust="spacingAndGlyphs" >Privaat</text>
<text x="43.70" y="259.70" font-size="7.7" fill="#fff" font-weight="bold" text-anchor="middle" textLength="27.30" lengthAdjust="spacingAndGlyphs" >initiatief</text>
<circle cx="84.2" cy="382.1" r="57.3" fill="#0b4d5f"/>
<text x="82.50" y="374.90" font-size="12.6" fill="#fff" font-weight="bold" text-anchor="middle" stroke="#fff" stroke-width="0.4" stroke-linejoin="round" textLength="65.40" lengthAdjust="spacingAndGlyphs" >AFWEGING</text>
<text x="84.30" y="389.70" font-size="12.6" fill="#fff" font-weight="bold" text-anchor="middle" stroke="#fff" stroke-width="0.4" stroke-linejoin="round" textLength="101.50" lengthAdjust="spacingAndGlyphs" >GRONDPOLITIEK</text>
<circle cx="193.9" cy="363" r="24.6" fill="#76b72a"/>
<text x="192.20" y="361.20" font-size="8.15" fill="#fff" font-weight="normal" text-anchor="middle" textLength="22.80" lengthAdjust="spacingAndGlyphs" >Beleid</text>
<text x="193.50" y="369.70" font-size="8.15" fill="#fff" font-weight="normal" text-anchor="middle" textLength="27.30" lengthAdjust="spacingAndGlyphs" >en visie</text>
<circle cx="170.6" cy="433" r="24.9" fill="#76b72a"/>
<text x="171.00" y="428.60" font-size="8.15" fill="#fff" font-weight="normal" text-anchor="middle" textLength="31.90" lengthAdjust="spacingAndGlyphs" >Kans om</text>
<text x="170.70" y="436.60" font-size="8.15" fill="#fff" font-weight="normal" text-anchor="middle" textLength="22.80" lengthAdjust="spacingAndGlyphs" >aan te</text>
<text x="171.40" y="444.60" font-size="8.15" fill="#fff" font-weight="normal" text-anchor="middle" textLength="21.30" lengthAdjust="spacingAndGlyphs" >kopen</text>
<circle cx="47.7" cy="485.2" r="34.4" fill="#76b72a"/>
<text x="47.60" y="475.90" font-size="8.15" fill="#fff" font-weight="normal" text-anchor="middle" textLength="41.30" lengthAdjust="spacingAndGlyphs" >Bestuurlijke</text>
<text x="47.40" y="484.10" font-size="8.15" fill="#fff" font-weight="normal" text-anchor="middle" textLength="50.40" lengthAdjust="spacingAndGlyphs" >ambitie uit het</text>
<text x="47.50" y="492.40" font-size="8.15" fill="#fff" font-weight="normal" text-anchor="middle" textLength="54.00" lengthAdjust="spacingAndGlyphs" >coalitieakkoord</text>
<circle cx="141.8" cy="512.2" r="40.3" fill="#76b72a"/>
<text x="141.70" y="498.40" font-size="8.15" fill="#fff" font-weight="normal" text-anchor="middle" textLength="45.50" lengthAdjust="spacingAndGlyphs" >Vrijkomende</text>
<text x="141.40" y="507.00" font-size="8.15" fill="#fff" font-weight="normal" text-anchor="middle" textLength="54.00" lengthAdjust="spacingAndGlyphs" >gemeentelijke</text>
<text x="141.50" y="515.50" font-size="8.15" fill="#fff" font-weight="normal" text-anchor="middle" textLength="38.40" lengthAdjust="spacingAndGlyphs" >locatie (bv</text>
<text x="141.00" y="524.30" font-size="8.15" fill="#fff" font-weight="normal" text-anchor="middle" textLength="58.30" lengthAdjust="spacingAndGlyphs" >maatschappelijk</text>
<text x="141.50" y="532.50" font-size="8.15" fill="#fff" font-weight="normal" text-anchor="middle" textLength="35.60" lengthAdjust="spacingAndGlyphs" >vastgoed)</text>
<clipPath id="cl1"><rect x="515.6" y="52.2" width="66.89999999999998" height="30"/></clipPath>
<g clip-path="url(#cl1)" fill="#fff">
<circle cx="529.00" cy="77.20" r="5.60"/>
<circle cx="541.00" cy="74.00" r="7.60"/>
<circle cx="554.50" cy="72.20" r="9.40"/>
<circle cx="567.00" cy="76.00" r="6.50"/>
<circle cx="574.50" cy="78.60" r="4.20"/>
<circle cx="522.50" cy="79.40" r="3.40"/>
<rect x="519.6" y="78.2" width="58.89999999999998" height="4"/>
</g>
<clipPath id="cl2"><rect x="618.7" y="57.3" width="25.59999999999991" height="30"/></clipPath>
<g clip-path="url(#cl2)" fill="#fff">
<circle cx="626.00" cy="84.30" r="3.60"/>
<circle cx="631.50" cy="84.00" r="4.60"/>
<circle cx="637.50" cy="85.00" r="3.00"/>
<rect x="622.7" y="83.3" width="17.59999999999991" height="4"/>
</g>
<path d="M651 68.6 Q656 65.2 660 65 Q662.5 62.6 666 64 Q669 62.3 673.2 64.6 Q667 65.6 663 66.8 Q657 67.3 651 68.6 Z" fill="#fff"/>
<path d="M675 76.6 Q680 74 685 74.4 Q690 74.6 694.3 76.8 Q685 77.6 675 76.6 Z" fill="#fff"/>
<clipPath id="cl3"><rect x="696" y="30.200000000000003" width="45.5" height="30"/></clipPath>
<g clip-path="url(#cl3)" fill="#fff">
<circle cx="705.00" cy="57.60" r="3.40"/>
<circle cx="712.00" cy="55.80" r="5.00"/>
<circle cx="720.00" cy="56.20" r="4.60"/>
<circle cx="728.00" cy="57.40" r="3.60"/>
<circle cx="734.00" cy="58.40" r="2.60"/>
<rect x="700" y="56.2" width="37.5" height="4"/>
</g>
<clipPath id="cl4"><rect x="742.5" y="30.200000000000003" width="21.0" height="30"/></clipPath>
<g clip-path="url(#cl4)" fill="#fff">
<circle cx="749.50" cy="58.20" r="2.60"/>
<circle cx="754.00" cy="57.80" r="3.00"/>
<circle cx="758.00" cy="58.80" r="2.00"/>
<rect x="746.5" y="56.2" width="13.0" height="4"/>
</g>
<circle cx="545.40" cy="90.90" r="4.00" fill="#77b82d" />
<circle cx="545.10" cy="97.95" r="4.48" fill="#77b82d" />
<circle cx="545.40" cy="104.20" r="4.96" fill="#77b82d" />
<rect x="544.70" y="95.70" width="1.40" height="25.10" fill="#7b4a2a" />
<circle cx="552.95" cy="107.80" r="6.30" fill="#77b82d" />
<circle cx="561.05" cy="107.80" r="6.30" fill="#77b82d" />
<circle cx="557.00" cy="103.30" r="6.48" fill="#77b82d" />
<rect x="556.30" y="103.30" width="1.40" height="17.50" fill="#7b4a2a" />
<circle cx="636.40" cy="97.10" r="3.30" fill="#77b82d" />
<circle cx="636.10" cy="102.65" r="3.70" fill="#77b82d" />
<circle cx="636.40" cy="107.54" r="4.09" fill="#77b82d" />
<rect x="635.70" y="101.06" width="1.40" height="19.74" fill="#7b4a2a" />
<circle cx="727.44" cy="108.26" r="6.16" fill="#77b82d" />
<circle cx="735.36" cy="108.26" r="6.16" fill="#77b82d" />
<circle cx="731.40" cy="103.86" r="6.34" fill="#77b82d" />
<rect x="730.70" y="103.86" width="1.40" height="16.94" fill="#7b4a2a" />
<rect x="563.20" y="103.20" width="28.00" height="17.40" fill="#456072" />
<polygon points="563.20,103.60 572.80,91.40 600.40,91.40 591.00,103.60" fill="#0b4d5f" />
<polygon points="591.00,120.60 591.00,103.20 600.30,92.60 610.60,103.20 610.60,120.60" fill="#8c9ca7" />
<polygon points="599.30,91.60 600.60,91.20 612.00,103.00 610.60,104.20" fill="#0b4d5f" />
<rect x="587.10" y="78.30" width="9.80" height="14.10" fill="#0b4d5f" />
<polygon points="587.10,78.50 592.00,65.80 596.90,78.50" fill="#0b4d5f" />
<path d="M590.70 86.20 L590.70 82.50 A1.30 1.30 0 0 1 593.30 82.50 L593.30 86.20 Z" fill="#cfe5f6"/>
<path d="M566.50 113.80 L566.50 107.30 A1.50 1.50 0 0 1 569.50 107.30 L569.50 113.80 Z" fill="#ffffff"/>
<path d="M572.60 113.80 L572.60 107.30 A1.50 1.50 0 0 1 575.60 107.30 L575.60 113.80 Z" fill="#ffffff"/>
<path d="M578.70 113.80 L578.70 107.30 A1.50 1.50 0 0 1 581.70 107.30 L581.70 113.80 Z" fill="#ffffff"/>
<path d="M584.80 113.80 L584.80 107.30 A1.50 1.50 0 0 1 587.80 107.30 L587.80 113.80 Z" fill="#ffffff"/>
<path d="M593.90 113.80 L593.90 107.30 A1.50 1.50 0 0 1 596.90 107.30 L596.90 113.80 Z" fill="#ffffff"/>
<path d="M604.70 113.80 L604.70 107.30 A1.50 1.50 0 0 1 607.70 107.30 L607.70 113.80 Z" fill="#ffffff"/>
<path d="M599.70 120.60 L599.70 111.40 A1.80 1.80 0 0 1 603.30 111.40 L603.30 120.60 Z" fill="#0b4d5f"/>
<circle cx="600.40" cy="99.60" r="1.50" fill="#dfe7ec" />
<path d="M608.2 121.6 L608.2 118 Q608.2 113.4 612.5 113.2 L621.5 113.2 Q623.6 113.3 625.2 115 L627.6 117.6 Q630.6 118.4 630.6 120.4 L630.6 122.2 L608.2 122.2 Z" fill="#149fe0"/>
<path d="M610.2 117.6 L610.2 115.8 Q610.3 114.6 611.6 114.6 L615.2 114.6 L615.2 117.6 Z M616.4 114.6 L621 114.6 Q622.2 114.7 623.2 115.8 L624.8 117.6 L616.4 117.6 Z" fill="#fff"/>
<circle cx="612.00" cy="122.60" r="1.50" fill="#333" />
<circle cx="625.60" cy="122.60" r="1.50" fill="#333" />
<rect x="641.00" y="117.00" width="40.80" height="3.90" fill="#0b4d5f" />
<rect x="642.50" y="84.60" width="17.80" height="32.40" fill="#8c9ca7" />
<ellipse cx="651.4" cy="84.8" rx="8.9" ry="0.9" fill="#6f8591"/>
<rect x="642.50" y="85.20" width="3.60" height="31.80" fill="#6d8390" />
<path d="M644.3 87 L644.3 116" stroke="#2f6272" stroke-width="1.6" stroke-dasharray="0.9 0.8" fill="none"/>
<rect x="657.50" y="88.50" width="1.40" height="24.50" fill="#3d5a6c" />
<rect x="662.80" y="84.60" width="17.80" height="32.40" fill="#8c9ca7" />
<ellipse cx="671.6999999999999" cy="84.8" rx="8.9" ry="0.9" fill="#6f8591"/>
<rect x="662.80" y="85.20" width="3.60" height="31.80" fill="#6d8390" />
<path d="M664.5999999999999 87 L664.5999999999999 116" stroke="#2f6272" stroke-width="1.6" stroke-dasharray="0.9 0.8" fill="none"/>
<rect x="677.80" y="88.50" width="1.40" height="24.50" fill="#3d5a6c" />
<rect x="680.50" y="93.80" width="43.30" height="2.40" fill="#f0a55b" />
<polygon points="681.20,96.00 684.90,96.00 682.30,119.60 680.80,119.60" fill="#f0a55b" />
<polygon points="686.60,96.00 690.60,96.00 688.20,119.60 686.70,119.60" fill="#f0a55b" />
<polygon points="713.40,96.00 717.20,96.00 717.00,119.60 715.50,119.60" fill="#f0a55b" />
<polygon points="718.40,96.00 722.80,96.00 723.80,119.60 722.20,119.60" fill="#f0a55b" />
<rect x="695.60" y="96.00" width="1.00" height="5.50" fill="#c98a4a" />
<rect x="695.00" y="101.50" width="2.20" height="2.50" fill="#8c9ca7" />
<rect x="680.30" y="118.60" width="1.80" height="1.80" fill="#6b4a3a" />
<rect x="686.50" y="118.60" width="1.80" height="1.80" fill="#6b4a3a" />
<rect x="715.40" y="118.60" width="1.80" height="1.80" fill="#6b4a3a" />
<rect x="722.10" y="118.60" width="1.80" height="1.80" fill="#6b4a3a" />
<rect x="749.30" y="113.60" width="29.60" height="7.10" fill="#456072" />
<polygon points="734.40,120.70 734.40,110.40 741.90,101.70 749.40,110.40 749.40,120.70" fill="#7f929d" />
<polygon points="741.50,101.70 771.60,101.70 778.90,113.70 749.20,113.70" fill="#0b4d5f" />
<rect x="735.00" y="115.00" width="5.20" height="3.20" fill="#fff" />
<rect x="742.90" y="114.00" width="3.50" height="6.70" fill="#0b4d5f" />
<circle cx="741.60" cy="107.20" r="1.10" fill="#fff" />
<rect x="752.20" y="114.90" width="2.70" height="2.40" fill="#fff" />
<rect x="755.75" y="114.90" width="2.70" height="2.40" fill="#fff" />
<rect x="759.30" y="114.90" width="2.70" height="2.40" fill="#fff" />
<rect x="762.85" y="114.90" width="2.70" height="2.40" fill="#fff" />
<rect x="766.40" y="114.90" width="2.70" height="2.40" fill="#fff" />
<rect x="769.95" y="114.90" width="2.70" height="2.40" fill="#fff" />
<rect x="773.50" y="114.90" width="2.70" height="2.40" fill="#fff" />
<polygon points="800.30,94.30 807.20,87.90 820.30,87.90 813.40,94.30" fill="#0b4d5f" />
<rect x="800.30" y="94.30" width="13.10" height="26.40" fill="#8c9ca7" />
<polygon points="813.40,120.70 813.40,94.30 820.30,87.90 827.20,94.30 827.20,120.70" fill="#456072" />
<polygon points="828.80,94.30 835.95,87.90 848.75,87.90 841.60,94.30" fill="#0b4d5f" />
<rect x="828.80" y="94.30" width="12.80" height="26.40" fill="#8c9ca7" />
<polygon points="841.60,120.70 841.60,94.30 848.75,87.90 855.90,94.30 855.90,120.70" fill="#456072" />
<rect x="803.00" y="100.00" width="3.40" height="4.10" fill="#fff" />
<rect x="807.10" y="100.00" width="3.40" height="4.10" fill="#fff" />
<rect x="803.00" y="105.10" width="3.40" height="4.10" fill="#fff" />
<rect x="807.10" y="105.10" width="3.40" height="4.10" fill="#fff" />
<rect x="803.00" y="110.20" width="3.40" height="4.10" fill="#fff" />
<rect x="807.10" y="110.20" width="3.40" height="4.10" fill="#fff" />
<path d="M817.10 102.60 L817.10 99.00 A1.40 1.40 0 0 1 819.90 99.00 L819.90 102.60 Z" fill="#e3eef5"/>
<path d="M822.10 102.60 L822.10 99.00 A1.40 1.40 0 0 1 824.90 99.00 L824.90 102.60 Z" fill="#e3eef5"/>
<path d="M817.10 110.30 L817.10 106.70 A1.40 1.40 0 0 1 819.90 106.70 L819.90 110.30 Z" fill="#e3eef5"/>
<path d="M822.10 110.30 L822.10 106.70 A1.40 1.40 0 0 1 824.90 106.70 L824.90 110.30 Z" fill="#e3eef5"/>
<path d="M817.10 118.00 L817.10 114.40 A1.40 1.40 0 0 1 819.90 114.40 L819.90 118.00 Z" fill="#e3eef5"/>
<path d="M822.10 118.00 L822.10 114.40 A1.40 1.40 0 0 1 824.90 114.40 L824.90 118.00 Z" fill="#e3eef5"/>
<rect x="831.50" y="100.00" width="3.40" height="4.10" fill="#fff" />
<rect x="835.60" y="100.00" width="3.40" height="4.10" fill="#fff" />
<rect x="831.50" y="105.10" width="3.40" height="4.10" fill="#fff" />
<rect x="835.60" y="105.10" width="3.40" height="4.10" fill="#fff" />
<rect x="831.50" y="110.20" width="3.40" height="4.10" fill="#fff" />
<rect x="835.60" y="110.20" width="3.40" height="4.10" fill="#fff" />
<path d="M845.60 102.60 L845.60 99.00 A1.40 1.40 0 0 1 848.40 99.00 L848.40 102.60 Z" fill="#e3eef5"/>
<path d="M850.60 102.60 L850.60 99.00 A1.40 1.40 0 0 1 853.40 99.00 L853.40 102.60 Z" fill="#e3eef5"/>
<path d="M845.60 110.30 L845.60 106.70 A1.40 1.40 0 0 1 848.40 106.70 L848.40 110.30 Z" fill="#e3eef5"/>
<path d="M850.60 110.30 L850.60 106.70 A1.40 1.40 0 0 1 853.40 106.70 L853.40 110.30 Z" fill="#e3eef5"/>
<path d="M845.60 118.00 L845.60 114.40 A1.40 1.40 0 0 1 848.40 114.40 L848.40 118.00 Z" fill="#e3eef5"/>
<path d="M850.60 118.00 L850.60 114.40 A1.40 1.40 0 0 1 853.40 114.40 L853.40 118.00 Z" fill="#e3eef5"/>
<clipPath id="cb776_120"><rect x="774" y="80.8" width="40" height="40"/></clipPath>
<g clip-path="url(#cb776_120)">
<ellipse cx="790.7" cy="121.5" rx="11.8" ry="11.3" fill="#77b82d"/>
<ellipse cx="804" cy="122" rx="7.6" ry="7.2" fill="#77b82d"/>
<ellipse cx="780.5" cy="122" rx="5" ry="3.4" fill="#77b82d"/>
</g>
<g transform="translate(850.6,120.5) scale(1.0)">
<rect x="0.3" y="-4.4" width="19.2" height="4.2" rx="2.1" fill="#3a4b58"/>
<circle cx="2.4" cy="-2.3" r="1.25" fill="#8fa9c2"/>
<circle cx="5.4" cy="-2.3" r="1.25" fill="#8fa9c2"/>
<circle cx="8.4" cy="-2.3" r="1.25" fill="#8fa9c2"/>
<circle cx="11.4" cy="-2.3" r="1.25" fill="#8fa9c2"/>
<circle cx="14.4" cy="-2.3" r="1.25" fill="#8fa9c2"/>
<circle cx="17.4" cy="-2.3" r="1.25" fill="#8fa9c2"/>
<rect x="0.6" y="-5.6" width="17" height="1.2" fill="#1d1d1b"/>
<rect x="0" y="-11.4" width="17.8" height="5.9" fill="#f2ab2f"/>
<rect x="0.6" y="-12.6" width="7" height="1.3" fill="#1d1d1b"/>
<rect x="7.6" y="-17.4" width="9.8" height="6.4" fill="#f2ab2f"/>
<rect x="8.8" y="-16.2" width="6.6" height="4.4" fill="#cfe5f6"/>
<path d="M15.6 -13.6 Q19 -22 25.2 -26.2 L27.4 -25.6 L29.6 -13.2" fill="none" stroke="#f2ab2f" stroke-width="3.0" stroke-linejoin="round" stroke-linecap="round"/>
<circle cx="27.6" cy="-5.6" r="0.45" fill="#b98a4a"/><circle cx="29" cy="-3.6" r="0.4" fill="#8a7a6a"/><circle cx="26.6" cy="-3.2" r="0.35" fill="#b98a4a"/>
<path d="M30.2 -13.4 Q29.6 -9 25.4 -8.8 L24 -10.6 Q27 -10.8 28 -14 Z" fill="#f2ab2f"/>
<circle cx="29.8" cy="-13.2" r="1" fill="#4a3d4a"/>
</g>
<g transform="translate(773.9,541.7) scale(1.58)">
<rect x="0.3" y="-4.4" width="19.2" height="4.2" rx="2.1" fill="#3a4b58"/>
<circle cx="2.4" cy="-2.3" r="1.25" fill="#8fa9c2"/>
<circle cx="5.4" cy="-2.3" r="1.25" fill="#8fa9c2"/>
<circle cx="8.4" cy="-2.3" r="1.25" fill="#8fa9c2"/>
<circle cx="11.4" cy="-2.3" r="1.25" fill="#8fa9c2"/>
<circle cx="14.4" cy="-2.3" r="1.25" fill="#8fa9c2"/>
<circle cx="17.4" cy="-2.3" r="1.25" fill="#8fa9c2"/>
<rect x="0.6" y="-5.6" width="17" height="1.2" fill="#1d1d1b"/>
<rect x="0" y="-11.4" width="17.8" height="5.9" fill="#f2ab2f"/>
<rect x="0.6" y="-12.6" width="7" height="1.3" fill="#1d1d1b"/>
<rect x="7.6" y="-17.4" width="9.8" height="6.4" fill="#f2ab2f"/>
<rect x="8.8" y="-16.2" width="6.6" height="4.4" fill="#cfe5f6"/>
<path d="M15.6 -13.6 Q19 -22 25.2 -26.2 L27.4 -25.6 L29.6 -13.2" fill="none" stroke="#f2ab2f" stroke-width="3.0" stroke-linejoin="round" stroke-linecap="round"/>
<circle cx="27.6" cy="-5.6" r="0.45" fill="#b98a4a"/><circle cx="29" cy="-3.6" r="0.4" fill="#8a7a6a"/><circle cx="26.6" cy="-3.2" r="0.35" fill="#b98a4a"/>
<path d="M30.2 -13.4 Q29.6 -9 25.4 -8.8 L24 -10.6 Q27 -10.8 28 -14 Z" fill="#f2ab2f"/>
<circle cx="29.8" cy="-13.2" r="1" fill="#4a3d4a"/>
</g>
<circle cx="823.60" cy="203.00" r="6.60" fill="#77b82d" />
<circle cx="836.80" cy="204.20" r="7.80" fill="#77b82d" />
<circle cx="819.00" cy="219.60" r="10.80" fill="#77b82d" />
<circle cx="837.60" cy="220.20" r="10.40" fill="#77b82d" />
<circle cx="829.00" cy="212.50" r="11.50" fill="#77b82d" />
<circle cx="828.50" cy="221.00" r="9.60" fill="#77b82d" />
<path d="M829.4 241.8 L829.4 210.6 M829.4 221 L826 217.6 M829.4 217 L832.4 213.6" stroke="#7b4a2a" stroke-width="2.1" fill="none" stroke-linecap="round"/>
<rect x="828.30" y="236.00" width="2.20" height="5.80" fill="#7b4a2a" />
<polygon points="724.10,521.60 735.50,511.00 751.00,511.00 751.00,521.60" fill="#0b4d5f" />
<rect x="724.10" y="521.40" width="26.90" height="20.30" fill="#8494a0" />
<polygon points="732.20,521.60 735.80,517.80 739.40,521.60" fill="#8494a0" />
<circle cx="735.80" cy="521.30" r="0.90" fill="#fff" />
<rect x="726.70" y="525.20" width="3.70" height="3.80" fill="#fff" />
<rect x="732.75" y="525.20" width="3.70" height="3.80" fill="#fff" />
<rect x="738.80" y="525.20" width="3.70" height="3.80" fill="#fff" />
<rect x="744.85" y="525.20" width="3.70" height="3.80" fill="#fff" />
<rect x="726.70" y="531.20" width="3.70" height="3.80" fill="#fff" />
<rect x="732.75" y="531.20" width="3.70" height="3.80" fill="#fff" />
<rect x="738.80" y="531.20" width="3.70" height="3.80" fill="#fff" />
<rect x="744.85" y="531.20" width="3.70" height="3.80" fill="#fff" />
<polygon points="750.60,541.70 750.60,504.00 753.00,501.60 763.70,501.60 763.70,541.70" fill="#8c9ca7" />
<polygon points="763.70,541.70 763.70,501.60 773.60,501.60 775.50,504.60 775.50,541.70" fill="#456072" />
<polygon points="762.20,501.60 773.60,501.60 775.50,504.60 763.70,504.60" fill="#2f4656" />
<circle cx="757.00" cy="504.80" r="0.80" fill="#fff" />
<path d="M752.15 514.00 L752.15 510.35 A1.15 1.15 0 0 1 754.45 510.35 L754.45 514.00 Z" fill="#fff"/>
<path d="M755.90 514.00 L755.90 510.35 A1.15 1.15 0 0 1 758.20 510.35 L758.20 514.00 Z" fill="#fff"/>
<path d="M759.65 514.00 L759.65 510.35 A1.15 1.15 0 0 1 761.95 510.35 L761.95 514.00 Z" fill="#fff"/>
<path d="M752.15 522.50 L752.15 518.85 A1.15 1.15 0 0 1 754.45 518.85 L754.45 522.50 Z" fill="#fff"/>
<path d="M755.90 522.50 L755.90 518.85 A1.15 1.15 0 0 1 758.20 518.85 L758.20 522.50 Z" fill="#fff"/>
<path d="M759.65 522.50 L759.65 518.85 A1.15 1.15 0 0 1 761.95 518.85 L761.95 522.50 Z" fill="#fff"/>
<path d="M752.15 531.00 L752.15 527.35 A1.15 1.15 0 0 1 754.45 527.35 L754.45 531.00 Z" fill="#fff"/>
<path d="M755.90 531.00 L755.90 527.35 A1.15 1.15 0 0 1 758.20 527.35 L758.20 531.00 Z" fill="#fff"/>
<path d="M759.65 531.00 L759.65 527.35 A1.15 1.15 0 0 1 761.95 527.35 L761.95 531.00 Z" fill="#fff"/>
<g clip-path="url(#frame)">
<circle cx="48.60" cy="585.60" r="8.60" fill="#77b82d" />
<circle cx="47.80" cy="599.60" r="9.40" fill="#77b82d" />
<circle cx="48.40" cy="617.00" r="11.60" fill="#77b82d" />
<rect x="41.50" y="588.00" width="14.10" height="22.00" fill="#77b82d" />
<path d="M70.2 606.4 L80.4 592.6 Q82.2 590.6 84 592.6 L93.8 606.4 L93 611.4 L98.2 644.6 L96.4 645.6 L96 655 L73.7 655 L73.7 645.6 L67 644.6 L71.4 611.4 Z" fill="#0e5068"/>
<rect x="73.70" y="645.40" width="22.50" height="9.60" fill="#8b9ba6" />
<rect x="80.50" y="620.40" width="3.50" height="5.20" fill="#0a0a0a" />
<rect x="80.30" y="632.20" width="3.90" height="4.20" fill="#0a0a0a" />
<rect x="74.00" y="608.20" width="3.00" height="3.20" fill="#27414d" />
<rect x="87.00" y="608.20" width="3.20" height="3.20" fill="#27414d" />
<path d="M81.16 603.67 L62.61 580.65 L57.79 584.55 L76.34 607.56 Z M78.75 605.62 L60.20 582.60 M78.07 599.84 L73.24 603.73 M74.98 596.00 L70.15 599.89 M71.89 592.16 L67.06 596.05 M68.80 588.33 L63.97 592.22 M65.71 584.49 L60.88 588.38 " fill="none" stroke="#e6cfab" stroke-width="1"/>
<path d="M82.20 609.90 L78.75 605.62" stroke="#e6cfab" stroke-width="1.4"/>
<path d="M88.39 608.65 L111.23 588.95 L107.17 584.25 L84.34 603.96 Z M86.36 606.31 L109.20 586.60 M92.20 605.37 L88.14 600.68 M96.00 602.08 L91.95 597.39 M99.81 598.80 L95.76 594.11 M103.61 595.52 L99.56 590.82 M107.42 592.23 L103.37 587.54 " fill="none" stroke="#e6cfab" stroke-width="1"/>
<path d="M82.20 609.90 L86.36 606.31" stroke="#e6cfab" stroke-width="1.4"/>
<path d="M75.97 610.95 L53.45 629.19 L57.35 634.01 L79.88 615.77 Z M77.93 613.36 L55.40 631.60 M72.22 613.99 L76.12 618.81 M68.47 617.03 L72.37 621.85 M64.71 620.07 L68.61 624.89 M60.96 623.11 L64.86 627.93 M57.20 626.15 L61.11 630.97 " fill="none" stroke="#e6cfab" stroke-width="1"/>
<path d="M82.20 609.90 L77.93 613.36" stroke="#e6cfab" stroke-width="1.4"/>
<path d="M83.86 615.99 L104.99 637.38 L109.41 633.02 L88.27 611.63 Z M86.07 613.81 L107.20 635.20 M87.38 619.56 L91.79 615.20 M90.91 623.12 L95.32 618.76 M94.43 626.69 L98.84 622.33 M97.95 630.25 L102.36 625.89 M101.47 633.81 L105.88 629.46 " fill="none" stroke="#e6cfab" stroke-width="1"/>
<path d="M82.20 609.90 L86.07 613.81" stroke="#e6cfab" stroke-width="1.4"/>
<circle cx="82.20" cy="609.90" r="1.70" fill="#e6cfab" />
<clipPath id="cb36_654"><rect x="34" y="614.6" width="60" height="40"/></clipPath>
<g clip-path="url(#cb36_654)">
<ellipse cx="60" cy="655.5" rx="14.5" ry="15.8" fill="#77b82d"/>
<ellipse cx="45" cy="656" rx="8.5" ry="8" fill="#77b82d"/>
<ellipse cx="80" cy="656" rx="11" ry="9" fill="#77b82d"/>
</g>
<rect x="47.40" y="601.40" width="2.30" height="53.60" fill="#7b4a2a" />
<polygon points="116.20,618.00 126.80,609.00 147.80,609.00 137.00,618.00" fill="#0b4d5f" />
<rect x="116.20" y="617.80" width="20.00" height="37.20" fill="#8c9ca7" />
<rect x="136.00" y="617.80" width="4.00" height="37.20" fill="#456072" />
<polygon points="139.90,618.00 149.40,609.00 169.70,609.00 159.40,618.00" fill="#0b4d5f" />
<polygon points="136.00,618.00 146.50,609.20 149.60,609.20 139.90,618.00" fill="#456072" />
<rect x="139.90" y="617.80" width="19.60" height="37.20" fill="#8c9ca7" />
<polygon points="159.40,655.00 159.40,617.80 169.60,609.00 179.10,617.60 179.10,655.00" fill="#456072" />
<rect x="120.80" y="625.60" width="4.00" height="5.20" fill="#fff" />
<rect x="126.50" y="625.60" width="4.00" height="5.20" fill="#fff" />
<rect x="120.80" y="633.40" width="4.00" height="5.20" fill="#fff" />
<rect x="126.50" y="633.40" width="4.00" height="5.20" fill="#fff" />
<rect x="143.60" y="625.60" width="4.00" height="5.20" fill="#fff" />
<rect x="149.30" y="625.60" width="4.00" height="5.20" fill="#fff" />
<rect x="143.60" y="633.40" width="4.00" height="5.20" fill="#fff" />
<rect x="149.30" y="633.40" width="4.00" height="5.20" fill="#fff" />
<path d="M126.20 655.00 L126.20 647.40 A3.20 3.20 0 0 1 132.60 647.40 L132.60 655.00 Z" fill="#2b5668"/>
<path d="M148.80 655.00 L148.80 647.40 A3.20 3.20 0 0 1 155.20 647.40 L155.20 655.00 Z" fill="#2b5668"/>
<path d="M164.70 628.80 L164.70 623.60 A2.00 2.00 0 0 1 168.70 623.60 L168.70 628.80 Z" fill="#dcebf5"/>
<path d="M171.90 628.80 L171.90 623.60 A2.00 2.00 0 0 1 175.90 623.60 L175.90 628.80 Z" fill="#dcebf5"/>
<path d="M164.70 640.00 L164.70 634.80 A2.00 2.00 0 0 1 168.70 634.80 L168.70 640.00 Z" fill="#dcebf5"/>
<path d="M171.90 640.00 L171.90 634.80 A2.00 2.00 0 0 1 175.90 634.80 L175.90 640.00 Z" fill="#dcebf5"/>
<clipPath id="cb149_654"><rect x="147" y="614.6" width="59" height="40"/></clipPath>
<g clip-path="url(#cb149_654)">
<ellipse cx="171.6" cy="655.5" rx="18" ry="16.2" fill="#77b82d"/>
<ellipse cx="193.6" cy="656" rx="10.5" ry="9" fill="#77b82d"/>
<ellipse cx="154" cy="656" rx="5" ry="4" fill="#77b82d"/>
</g>
</g>
<rect x="843.60" y="21.00" width="5.35" height="22.50" fill="#149fe0" />
<path d="M840.2 19.1 L848.95 19.1 L848.95 25 L843.6 25 Q843.4 21.4 840.2 19.1 Z" fill="#149fe0"/>
<g fill="none" stroke-width="5.5" stroke-linecap="butt"><path d="M870.9 43.5 L870.9 28.1 A6.2 6.2 0 0 0 859.2 25.6" stroke="#77b82d"/><path d="M858.05 43.5 L858.05 27.8 A5.9 5.9 0 0 0 847.4 24.2" stroke="#0b4d5f"/></g>
<path d="M873.6 40.4 Q873.9 41.7 875.9 41.7 L875.9 43.5 L871 43.5 Z" fill="#77b82d"/>
<text y="62.9" font-size="12.6" font-weight="bold" stroke-width="0.45" stroke-linejoin="round"><tspan x="818.7" fill="#7ab52f" stroke="#7ab52f" textLength="52.2" lengthAdjust="spacingAndGlyphs">MEIERIJ</tspan><tspan x="871.4" fill="#0b4d5f" stroke="#0b4d5f" textLength="31.6" lengthAdjust="spacingAndGlyphs">STAD</tspan></text>
<rect x="891.5" y="31.9" width="24" height="14.6" fill="#d1e6f6" stroke="#2c4d7d" stroke-width="1" clip-path="url(#frame)"/>
<text x="898.60" y="41.60" font-size="5.4" fill="#2f8fd0" font-weight="bold" text-anchor="middle" font-style="italic">7</text>
<rect x="910.80" y="634.00" width="1.20" height="20.60" fill="#111" />
</svg>
</body></html>
